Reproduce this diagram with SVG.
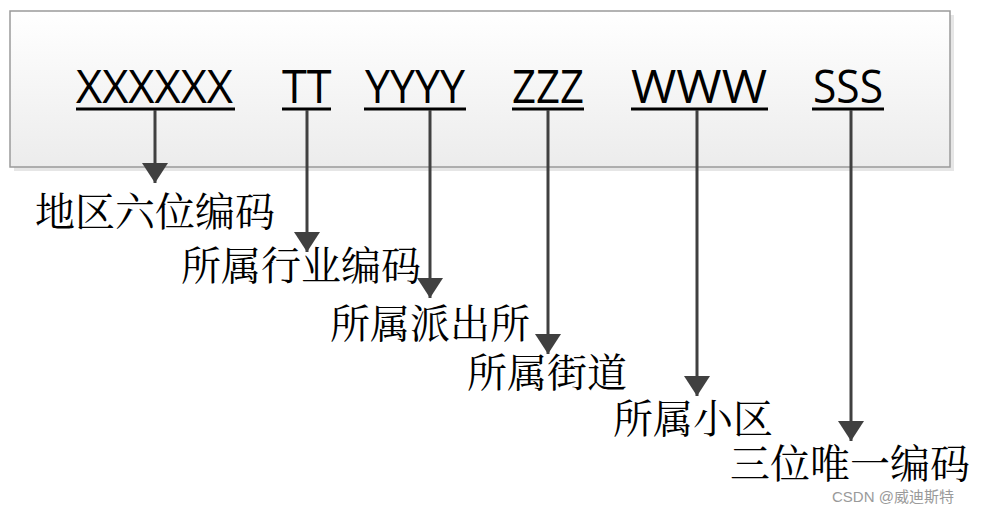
<svg xmlns="http://www.w3.org/2000/svg" width="985" height="510" viewBox="0 0 985 510">
<defs>
<linearGradient id="bg" x1="0" y1="0" x2="0" y2="1"><stop offset="0" stop-color="#ffffff"/><stop offset="1" stop-color="#ececec"/></linearGradient>
<marker id="ah2" viewBox="0 0 20 26" refX="20" refY="13" markerWidth="20" markerHeight="26" markerUnits="userSpaceOnUse" orient="auto"><path d="M0,0 L20,13 L0,26 Z" fill="#404040"/></marker>
<style>
.code{font-family:"Open Sans","Noto Sans",sans-serif;font-size:45px;fill:#000}
.ul{stroke:#000;stroke-width:3}
.lbl{font-family:"Noto Serif CJK SC","Noto Sans CJK SC",serif;font-size:40px;fill:#000}
.conn{stroke:#404040;stroke-width:3;fill:none;marker-end:url(#ah2)}
</style>
</defs>
<rect x="0" y="0" width="985" height="510" fill="#fff"/>
<g id="box">
<rect x="14" y="15" width="940" height="156" fill="#e6e6e6"/>
<rect x="10" y="11" width="940" height="156" fill="url(#bg)" stroke="#9a9a9a" stroke-width="1.5"/>
</g>
<g id="codes">
<g id="c1"><text class="code" x="76" y="103" textLength="157" lengthAdjust="spacingAndGlyphs">XXXXXX</text><line class="ul" x1="76" y1="109" x2="235" y2="109"/></g>
<g id="c2"><text class="code" x="282" y="103">TT</text><line class="ul" x1="282" y1="109" x2="331" y2="109"/></g>
<g id="c3"><text class="code" x="365" y="103" textLength="100" lengthAdjust="spacingAndGlyphs">YYYY</text><line class="ul" x1="364" y1="109" x2="466" y2="109"/></g>
<g id="c4"><text class="code" x="512" y="103" textLength="72" lengthAdjust="spacingAndGlyphs">ZZZ</text><line class="ul" x1="512" y1="109" x2="584" y2="109"/></g>
<g id="c5"><text class="code" x="631" y="103" textLength="136" lengthAdjust="spacingAndGlyphs">WWW</text><line class="ul" x1="631" y1="109" x2="768" y2="109"/></g>
<g id="c6"><text class="code" x="813" y="103" textLength="70" lengthAdjust="spacingAndGlyphs">SSS</text><line class="ul" x1="812" y1="109" x2="884" y2="109"/></g>
</g>
<g id="connectors">
<line class="conn" x1="155" y1="110" x2="155" y2="183"/>
<line class="conn" x1="307" y1="110" x2="307" y2="252"/>
<line class="conn" x1="430" y1="110" x2="430" y2="298"/>
<line class="conn" x1="548" y1="110" x2="548" y2="354"/>
<line class="conn" x1="697" y1="110" x2="697" y2="396"/>
<line class="conn" x1="851" y1="110" x2="851" y2="441"/>
</g>
<g id="labels">
<g id="l1"><text class="lbl" x="35" y="226">地区六位编码</text></g>
<g id="l2"><text class="lbl" x="181" y="280">所属行业编码</text></g>
<g id="l3"><text class="lbl" x="330" y="338">所属派出所</text></g>
<g id="l4"><text class="lbl" x="467" y="387">所属街道</text></g>
<g id="l5"><text class="lbl" x="613" y="433">所属小区</text></g>
<g id="l6"><text class="lbl" x="730" y="478">三位唯一编码</text></g>
</g>
<text x="832" y="502" font-family="'Liberation Sans','Noto Sans CJK SC',sans-serif" font-size="15" fill="#9a9a9a">CSDN @威迪斯特</text>
</svg>
